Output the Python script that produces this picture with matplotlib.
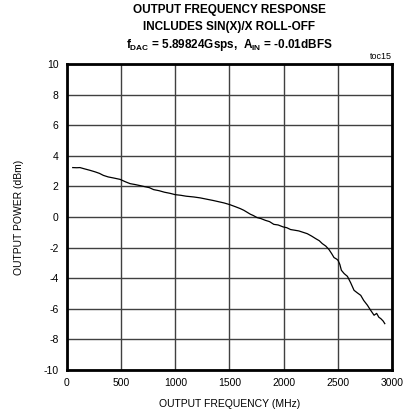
import matplotlib
matplotlib.use("Agg")
import matplotlib.pyplot as plt
import numpy as np

plt.rcParams['font.family'] = ['Liberation Sans', 'DejaVu Sans']
plt.rcParams['axes.unicode_minus'] = False
plt.rcParams['mathtext.fontset'] = 'custom'
plt.rcParams['mathtext.rm'] = 'Liberation Sans:bold'
plt.rcParams['mathtext.it'] = 'Liberation Sans:bold'
plt.rcParams['mathtext.bf'] = 'Liberation Sans:bold'

# Output frequency (MHz) and output power (dBm)
freq = [53, 90, 120, 160, 213, 260, 300, 336, 380, 430, 490, 540, 583, 630, 676,
        720, 760, 800, 850, 900, 950, 1000, 1050, 1100, 1170, 1230, 1293, 1350,
        1400, 1450, 1503, 1560, 1600, 1633, 1694, 1720, 1756, 1790, 1833, 1870,
        1910, 1950, 1997, 2030, 2065, 2100, 2141, 2180, 2219, 2260, 2296, 2330,
        2358, 2390, 2420, 2445, 2466, 2490, 2503, 2520, 2534, 2560, 2590, 2620,
        2651, 2680, 2713, 2740, 2775, 2800, 2836, 2860, 2880, 2898, 2920, 2935]
power = [3.23, 3.22, 3.23, 3.15, 3.05, 2.95, 2.85, 2.72, 2.62, 2.55, 2.46, 2.30,
         2.18, 2.12, 2.05, 1.98, 1.92, 1.79, 1.72, 1.62, 1.55, 1.46, 1.42, 1.36,
         1.31, 1.25, 1.16, 1.08, 1.00, 0.92, 0.81, 0.66, 0.55, 0.44, 0.18, 0.10,
         -0.04, -0.10, -0.22, -0.30, -0.48, -0.52, -0.65, -0.70, -0.82, -0.86,
         -0.91, -1.00, -1.09, -1.25, -1.41, -1.55, -1.74, -1.90, -2.13, -2.40,
         -2.65, -2.75, -2.83, -3.10, -3.48, -3.70, -3.88, -4.30, -4.79, -4.95,
         -5.12, -5.45, -5.77, -6.05, -6.42, -6.30, -6.55, -6.64, -6.80, -6.97]

xticks = [0, 500, 1000, 1500, 2000, 2500, 3000]
yticks = [-10, -8, -6, -4, -2, 0, 2, 4, 6, 8, 10]

fig = plt.figure(figsize=(4.09, 4.15), dpi=100)
ax = fig.add_axes([0.1638, 0.1084, 0.7942, 0.7374])

ax.plot(freq, power, color='black', linewidth=0.9)

ax.set_xlim(0, 3000)
ax.set_ylim(-10, 10)
ax.set_xticks(xticks)
ax.set_yticks(yticks)
ax.grid(True, color='#404040', linewidth=1.0)
ax.tick_params(length=0, labelsize=7.5, pad=6)
for s in ax.spines.values():
    s.set_linewidth(2.0)
    s.set_color('black')

ax.set_xlabel('OUTPUT FREQUENCY (MHz)', fontsize=7.5, labelpad=8)
ax.set_ylabel('OUTPUT POWER (dBm)', fontsize=7.5, labelpad=14)

fig.text(0.56, 0.977, 'OUTPUT FREQUENCY RESPONSE', ha='center', va='center',
         fontsize=8.5, fontweight='bold')
fig.text(0.56, 0.935, 'INCLUDES SIN(X)/X ROLL-OFF', ha='center', va='center',
         fontsize=8.5, fontweight='bold')
fig.text(0.56, 0.892, r'$f_{DAC}$ = 5.89824Gsps,  $A_{IN}$ = -0.01dBFS',
         ha='center', va='center', fontsize=8.5, fontweight='bold')
fig.text(0.958, 0.852, 'toc15', ha='right', va='bottom', fontsize=6.5)

fig.savefig('out.png', dpi=100)
